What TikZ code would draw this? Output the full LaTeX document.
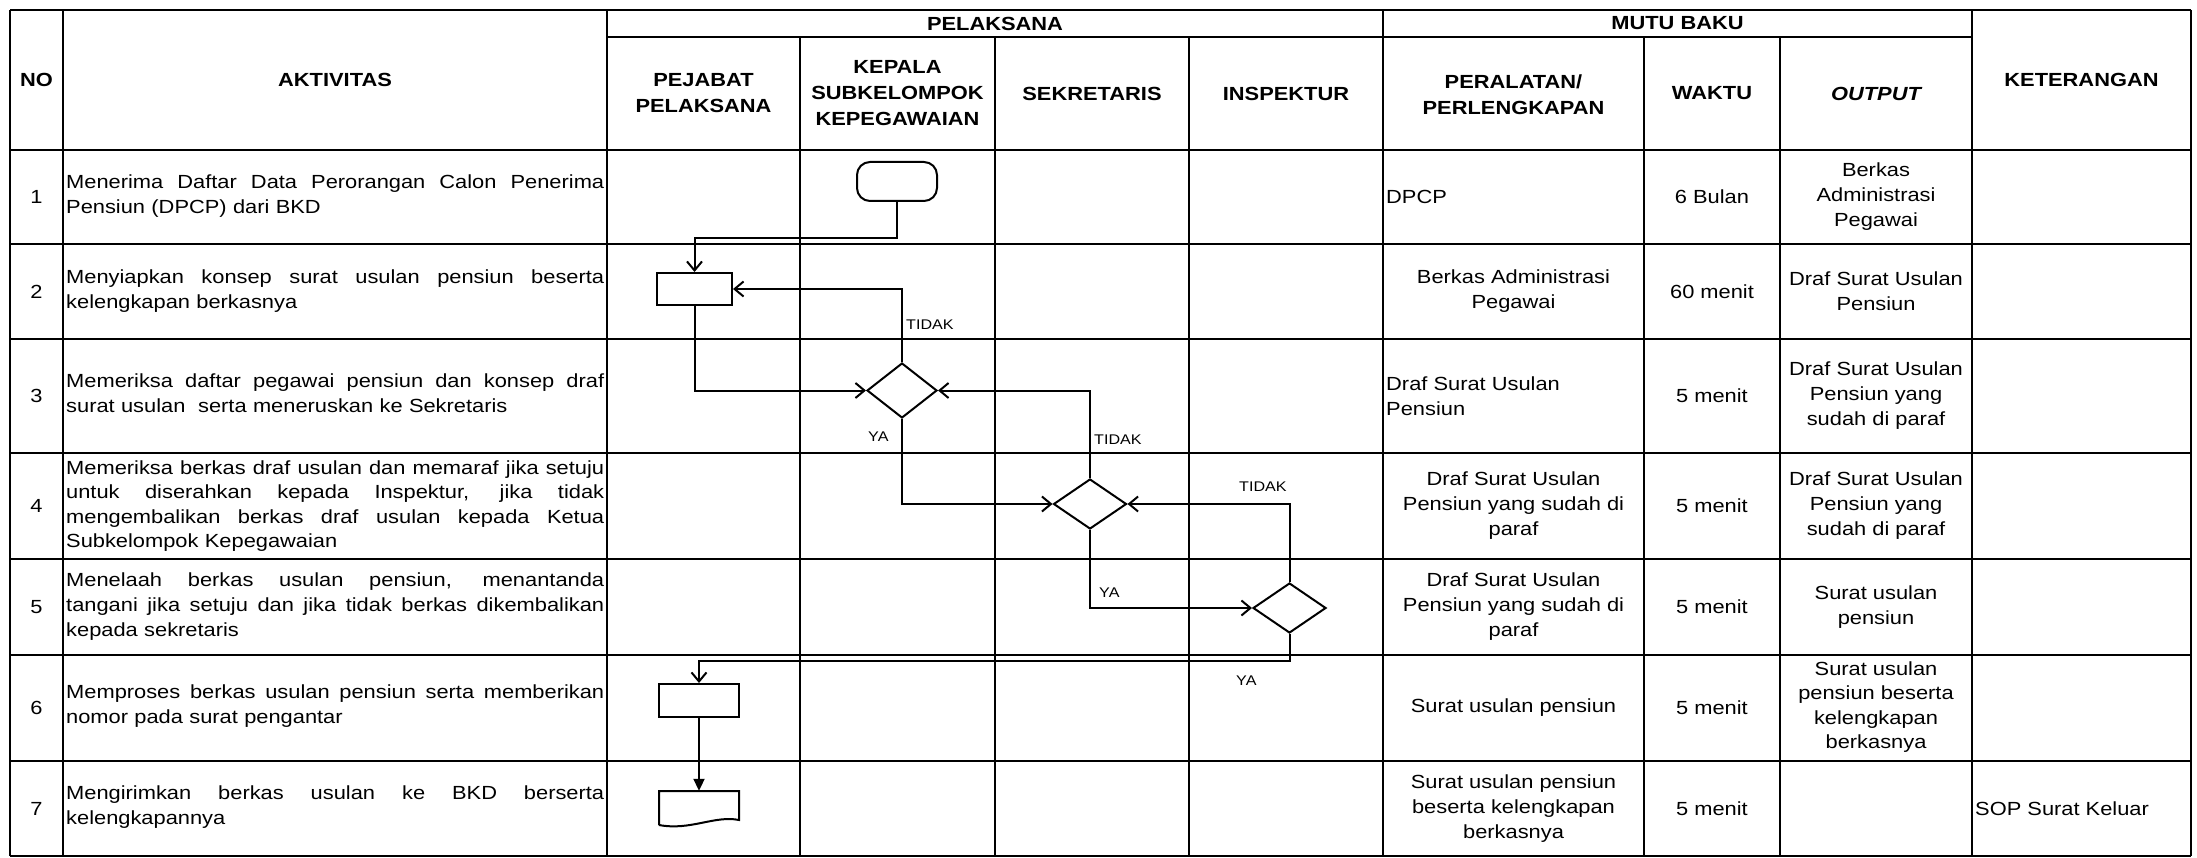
\documentclass[tikz,border=0pt]{standalone}
\usepackage{fontspec}
\setmainfont{Liberation Sans}[FakeStretch=1.15]
\usetikzlibrary{arrows.meta,shapes.geometric}
\newcommand\jl[1]{{\spaceskip=0.28em plus 3em minus 0.08em\xspaceskip=\spaceskip\makebox[538pt][s]{#1}}}
\begin{document}
\begin{tikzpicture}[x=1pt,y=-1pt,
  gridline/.style={line width=2pt},
  txt/.style={font=\fontsize{19}{25}\selectfont, inner sep=0pt},
  hdr/.style={font=\fontsize{19}{26}\selectfont\bfseries, inner sep=0pt, align=center},
  act/.style={txt, anchor=west, text width=538pt, align=left},
  cell/.style={txt, align=center},
  lcell/.style={txt, align=left, anchor=west},
  proc/.style={draw, line width=2pt, rectangle, inner sep=0pt},
  dec/.style={draw, diamond, line width=2pt, inner sep=0pt},
  conn/.style={line width=2pt, -{Straight Barb[length=9pt,width=15pt]}},
  lbl/.style={font=\fontsize{14}{16}\selectfont, inner sep=0pt, anchor=west}]
\useasboundingbox (0,0) rectangle (2197,858);
\fill[white] (0,0) rectangle (2197,858);

% ---- table grid ----
\draw[gridline] (10,10) -- (2191,10);
\draw[gridline] (607,37) -- (1972,37);
\foreach \yy in {150,244,339,453,559,655,761,856}
  \draw[gridline] (10,\yy) -- (2191,\yy);
\foreach \xx in {10,63,607,1383,1972,2191}
  \draw[gridline] (\xx,10) -- (\xx,856);
\foreach \xx in {800,995,1189,1644,1780}
  \draw[gridline] (\xx,37) -- (\xx,856);

% ---- header ----
\node[hdr] (hNO) at (36.5,80) {NO};
\node[hdr] (hAkt) at (335,80) {AKTIVITAS};
\node[hdr] (hPel) at (995,23.5) {PELAKSANA};
\node[hdr] (hPej) at (703.5,93.5) {PEJABAT\\PELAKSANA};
\node[hdr] (hKep) at (897.5,93.5) {KEPALA\\SUBKELOMPOK\\KEPEGAWAIAN};
\node[hdr] (hSek) at (1092,93.5) {SEKRETARIS};
\node[hdr] (hIns) at (1286,93.5) {INSPEKTUR};
\node[hdr] (hMutu) at (1677.5,23.5) {MUTU BAKU};
\node[hdr] (hPer) at (1513.5,95) {PERALATAN/\\PERLENGKAPAN};
\node[hdr] (hWak) at (1712,93.5) {WAKTU};
\node[hdr] (hOut) at (1876,93.5) {\itshape OUTPUT};
\node[hdr] (hKet) at (2081.5,80) {KETERANGAN};

% ---- row numbers ----
\node[cell] (n1) at (36.5,197) {1};
\node[cell] (n2) at (36.5,291.5) {2};
\node[cell] (n3) at (36.5,396) {3};
\node[cell] (n4) at (36.5,506) {4};
\node[cell] (n5) at (36.5,607) {5};
\node[cell] (n6) at (36.5,708) {6};
\node[cell] (n7) at (36.5,808.5) {7};

% ---- activities ----
\node[act] (a1) at (66,196) {\jl{Menerima Daftar Data Perorangan Calon Penerima}\\Pensiun (DPCP) dari BKD};
\node[act] (a2) at (66,291.5) {\jl{Menyiapkan konsep surat usulan pensiun beserta}\\kelengkapan berkasnya};
\node[act] (a3) at (66,393) {\jl{Memeriksa daftar pegawai pensiun dan konsep draf}\\surat usulan\ \ serta meneruskan ke Sekretaris};
\node[act,font=\fontsize{19}{24.5}\selectfont] (a4) at (66,506) {\jl{Memeriksa berkas draf usulan dan memaraf jika setuju}\\\jl{untuk diserahkan kepada Inspektur, jika tidak}\\\jl{mengembalikan berkas draf usulan kepada Ketua}\\Subkelompok Kepegawaian};
\node[act] (a5) at (66,607) {\jl{Menelaah berkas usulan pensiun, menantanda}\\\jl{tangani jika setuju dan jika tidak berkas dikembalikan}\\kepada sekretaris};
\node[act] (a6) at (66,706) {\jl{Memproses berkas usulan pensiun serta memberikan}\\nomor pada surat pengantar};
\node[act] (a7) at (66,807) {\jl{Mengirimkan berkas usulan ke BKD berserta}\\kelengkapannya};

% ---- peralatan ----
\node[lcell] (p1) at (1386,197) {DPCP};
\node[cell] (p2) at (1513.5,291.5) {Berkas Administrasi\\Pegawai};
\node[lcell] (p3) at (1386,396) {Draf Surat Usulan\\Pensiun};
\node[cell] (p4) at (1513.5,506) {Draf Surat Usulan\\Pensiun yang sudah di\\paraf};
\node[cell] (p5) at (1513.5,607) {Draf Surat Usulan\\Pensiun yang sudah di\\paraf};
\node[cell] (p6) at (1513.5,708) {Surat usulan pensiun};
\node[cell] (p7) at (1513.5,808.5) {Surat usulan pensiun\\beserta kelengkapan\\berkasnya};

% ---- waktu ----
\node[cell] (w1) at (1712,197) {6 Bulan};
\node[cell] (w2) at (1712,291.5) {60 menit};
\node[cell] (w3) at (1712,396) {5 menit};
\node[cell] (w4) at (1712,506) {5 menit};
\node[cell] (w5) at (1712,607) {5 menit};
\node[cell] (w6) at (1712,708) {5 menit};
\node[cell] (w7) at (1712,808.5) {5 menit};

% ---- output ----
\node[cell] (o1) at (1876,197) {Berkas\\Administrasi\\Pegawai};
\node[cell] (o2) at (1876,291.5) {Draf Surat Usulan\\Pensiun};
\node[cell] (o3) at (1876,396) {Draf Surat Usulan\\Pensiun yang\\sudah di paraf};
\node[cell] (o4) at (1876,506) {Draf Surat Usulan\\Pensiun yang\\sudah di paraf};
\node[cell] (o5) at (1876,607) {Surat usulan\\pensiun};
\node[cell,font=\fontsize{19}{24.5}\selectfont] (o6) at (1876,707) {Surat usulan\\pensiun beserta\\kelengkapan\\berkasnya};

% ---- keterangan ----
\node[lcell] (k7) at (1975,808.5) {SOP Surat Keluar};

% ---- flowchart ----
\node[proc, rounded corners=13pt, minimum width=80pt, minimum height=39pt] (start) at (897,181.5) {};
\node[proc, minimum width=75pt, minimum height=32pt] (b2) at (694.5,289) {};
\node[dec, minimum width=70pt, minimum height=55pt] (d1) at (902,390.5) {};
\node[dec, minimum width=73pt, minimum height=50pt] (d2) at (1090,504) {};
\node[dec, minimum width=73pt, minimum height=50pt] (d3) at (1289.5,608) {};
\node[proc, minimum width=80pt, minimum height=33pt] (b6) at (699,700.5) {};
\node[inner sep=0pt, minimum width=80pt, minimum height=36pt] (doc7) at (699,809) {};
\draw[line width=2pt, line join=miter] (659,825) -- (659,791) -- (739,791) -- (739,820)
  .. controls (715,815) and (690,831) .. (659,825);

\draw[conn] (start.south) -- ++(0,36) -| (b2.north);
\draw[conn] (b2.south) |- (d1.west);
\draw[conn] (d1.north) |- (b2.east);
\node[lbl] (t1) at (906,325) {TIDAK};
\draw[conn] (d1.south) |- (d2.west);
\node[lbl] (y1) at (868,437) {YA};
\draw[conn] (d2.north) |- (d1.east);
\node[lbl] (t2) at (1094,440) {TIDAK};
\draw[conn] (d3.north) |- (d2.east);
\node[lbl] (t3) at (1239,487) {TIDAK};
\draw[conn] (d2.south) |- (d3.west);
\node[lbl] (y2) at (1099,593) {YA};
\draw[conn] (d3.south) -- ++(0,27) -| (b6.north);
\node[lbl] (y3) at (1236,681) {YA};
\draw[line width=2pt, -{Triangle[length=12pt,width=11pt]}] (b6.south) -- (doc7.north);
\end{tikzpicture}
\end{document}
